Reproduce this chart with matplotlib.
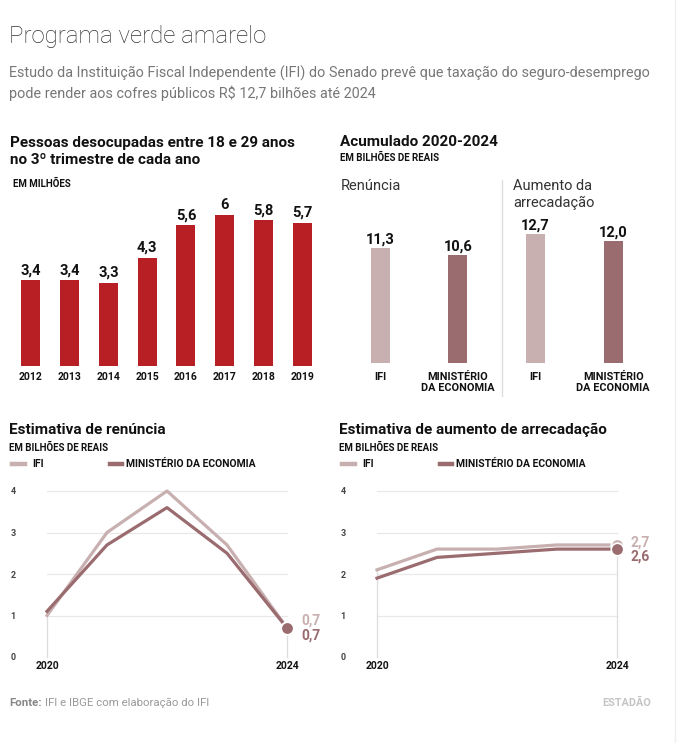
import matplotlib
matplotlib.use("Agg")
import matplotlib.pyplot as plt
from matplotlib.lines import Line2D
from matplotlib.patches import Rectangle

# Data
anos = ["2012", "2013", "2014", "2015", "2016", "2017", "2018", "2019"]
desocupados = [3.4, 3.4, 3.3, 4.3, 5.6, 6.0, 5.8, 5.7]
desocupados_lbl = ["3,4", "3,4", "3,3", "4,3", "5,6", "6", "5,8", "5,7"]

acum_renuncia = [11.3, 10.6]
acum_arrecad = [12.7, 12.0]
acum_fontes = ["IFI", "MINISTÉRIO\nDA ECONOMIA"]

anos_proj = [2020, 2021, 2022, 2023, 2024]
ren_ifi = [1.0, 3.0, 4.0, 2.7, 0.7]
ren_min = [1.1, 2.7, 3.6, 2.5, 0.7]
arr_ifi = [2.1, 2.6, 2.6, 2.7, 2.7]
arr_min = [1.9, 2.4, 2.5, 2.6, 2.6]

RED = "#B81F25"
IFI_C = "#C8B0B1"
MIN_C = "#9A6C6F"
DARK = "#222222"
GRAY = "#777777"

W, H = 677, 743
fig = plt.figure(figsize=(W / 100, H / 100), dpi=100)
plt.rcParams["font.family"] = ["Roboto", "DejaVu Sans"]


def fx(x):
    return x / W


def fy(y):
    return 1 - y / H


def axes_px(left, top, right, bottom):
    return fig.add_axes([fx(left), fy(bottom), (right - left) / W, (bottom - top) / H])


def txt(x, y, s, size, weight="normal", color=DARK, ha="left", **kw):
    return fig.text(fx(x), fy(y), s, fontsize=size, fontweight=weight, color=color,
                    ha=ha, va="center", family=["Roboto", "DejaVu Sans"], **kw)


# header
txt(9, 37, "Programa verde amarelo", 17.3, "light", "#333333")
txt(9, 73, "Estudo da Instituição Fiscal Independente (IFI) do Senado prevê que taxação do seguro-desemprego",
    10.4, "normal", GRAY)
txt(9, 93, "pode render aos cofres públicos R$ 12,7 bilhões até 2024", 10.4, "normal", GRAY)

# --- left bar chart
txt(10, 143, "Pessoas desocupadas entre 18 e 29 anos", 11, "bold", "#111111")
txt(10, 160, "no 3º trimestre de cada ano", 11, "bold", "#111111")
txt(13, 184, "EM MILHÕES", 7, "bold", "#111111")

ax1 = axes_px(11.6, 200, 321.6, 366)
xs = range(len(anos))
ax1.bar(xs, desocupados, width=0.49, color=RED)
for i, (v, l) in enumerate(zip(desocupados, desocupados_lbl)):
    ax1.text(i, v + 0.12, l, ha="center", va="bottom", fontsize=10.5, fontweight="bold", color="#111111")
ax1.set_xlim(-0.5, len(anos) - 0.5)
ax1.set_ylim(0, 6.6)
ax1.set_xticks(list(xs))
ax1.set_xticklabels(anos, fontsize=7.5, fontweight="bold", color="#111111")
ax1.tick_params(axis="x", length=0, pad=4)
ax1.set_yticks([])
for s in ax1.spines.values():
    s.set_visible(False)
ax1.patch.set_alpha(0)

# --- right top bars
txt(340, 142, "Acumulado 2020-2024", 11, "bold", "#111111")
txt(340, 158, "EM BILHÕES DE REAIS", 7, "bold", "#111111")
txt(341, 186, "Renúncia", 10.5, color="#333333")
txt(513, 186, "Aumento da", 10.5, color="#333333")
txt(513, 203, "arrecadação", 10.5, color="#333333")
fig.add_artist(Line2D([fx(502), fx(502)], [fy(180), fy(396)], color="#dddddd", lw=1))

ax2 = axes_px(341.2, 220, 652, 363)
vals = acum_renuncia + acum_arrecad
cols = [IFI_C, MIN_C, IFI_C, MIN_C]
ax2.bar(range(4), vals, width=0.245, color=cols)
for i, v in enumerate(vals):
    ax2.text(i, v + 0.15, f"{v:.1f}".replace(".", ","), ha="center", va="bottom",
             fontsize=10.5, fontweight="bold", color="#111111")
for i, l in enumerate(acum_fontes * 2):
    ax2.text(i, -0.9, l, ha="center", va="top", fontsize=7.8, fontweight="bold",
             color="#111111", linespacing=1.1)
ax2.set_xlim(-0.5, 3.5)
ax2.set_ylim(0, 14.1)
ax2.set_xticks([])
ax2.set_yticks([])
for s in ax2.spines.values():
    s.set_visible(False)
ax2.patch.set_alpha(0)
# the original graphic crops the last label at its right edge
fig.add_artist(Rectangle((fx(652), fy(396)), fx(670) - fx(652), fy(368) - fy(396),
                         transform=fig.transFigure, color="white", zorder=10))


# --- line charts
def line_panel(x0, title, ifi, mn):
    txt(x0 + 9, 430, title, 11, "bold", "#111111")
    txt(x0 + 9, 448, "EM BILHÕES DE REAIS", 7, "bold", "#111111")
    fig.add_artist(Line2D([fx(x0 + 12), fx(x0 + 25)], [fy(464), fy(464)], color=IFI_C, lw=3.2))
    txt(x0 + 32, 464, "IFI", 7.5, "bold", "#111111")
    fig.add_artist(Line2D([fx(x0 + 110), fx(x0 + 122)], [fy(464), fy(464)], color=MIN_C, lw=3.2))
    txt(x0 + 126, 464, "MINISTÉRIO DA ECONOMIA", 7.5, "bold", "#111111")

    ax = axes_px(x0 + 47, 491, x0 + 287, 657)
    ax.set_xlim(anos_proj[0], anos_proj[-1])
    ax.set_ylim(0, 4)
    for g in [1, 2, 3, 4]:
        ax.axhline(g, color="#e8e8e8", lw=0.9, zorder=0, clip_on=False)
    for xi, top in [(0, max(ifi[0], mn[0])), (-1, max(ifi[-1], mn[-1]))]:
        ax.plot([anos_proj[xi]] * 2, [0, top], color="#dddddd", lw=0.9, zorder=0, clip_on=False)
    ax.plot(anos_proj, ifi, color=IFI_C, lw=2.3, clip_on=False, zorder=2)
    ax.plot(anos_proj, mn, color=MIN_C, lw=2.3, clip_on=False, zorder=3)
    ax.plot(anos_proj[-1], ifi[-1], "o", ms=9, color=IFI_C, mec="white", mew=1.2, clip_on=False, zorder=4)
    ax.plot(anos_proj[-1], mn[-1], "o", ms=9, color=MIN_C, mec="white", mew=1.2, clip_on=False, zorder=5)
    ax.annotate(f"{ifi[-1]:.1f}".replace(".", ","), (anos_proj[-1], mn[-1]), xytext=(10, 5),
                textcoords="offset points", ha="left", va="center", fontsize=10,
                fontweight="bold", color=IFI_C, annotation_clip=False)
    ax.annotate(f"{mn[-1]:.1f}".replace(".", ","), (anos_proj[-1], mn[-1]), xytext=(10, -5.5),
                textcoords="offset points", ha="left", va="center", fontsize=10,
                fontweight="bold", color=MIN_C, annotation_clip=False)
    ax.set_yticks([0, 1, 2, 3, 4])
    ax.set_yticklabels(["0", "1", "2", "3", "4"], fontsize=6.5, fontweight="bold", color="#444444")
    ax.tick_params(axis="y", length=0, pad=24.5)
    for lab in ax.get_yticklabels():
        lab.set_horizontalalignment("center")
    ax.set_xticks([anos_proj[0], anos_proj[-1]])
    ax.set_xticklabels(["2020", "2024"], fontsize=7.5, fontweight="bold", color="#111111")
    ax.tick_params(axis="x", length=0, pad=3)
    for s in ax.spines.values():
        s.set_visible(False)
    ax.patch.set_alpha(0)
    return ax


line_panel(0, "Estimativa de renúncia", ren_ifi, ren_min)
line_panel(330, "Estimativa de aumento de arrecadação", arr_ifi, arr_min)

# footer
f1 = txt(9, 703, "Fonte:", 8.2, "bold", "#888888")
fig.canvas.draw()
bb = f1.get_window_extent()
txt(bb.x1 + 3, 703, "IFI e IBGE com elaboração do IFI", 8.2, "normal", "#999999")
txt(651, 703, "ESTADÃO", 7.8, "bold", "#c4c4c4", ha="right")

# faint frame line at the right edge
fig.add_artist(Line2D([fx(675), fx(675)], [0, 1], color="#eeeeee", lw=1))

fig.savefig("out.png", dpi=100)
